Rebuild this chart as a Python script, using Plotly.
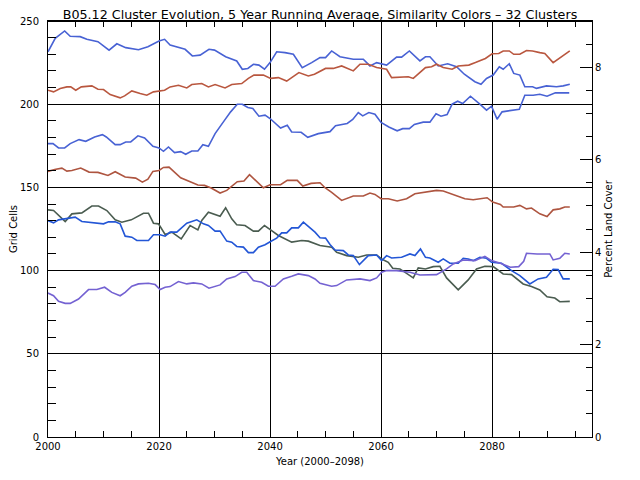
import plotly.graph_objects as go

# Each series: (year, grid cells) pairs
blue_top = [(2000,231.5),(2001.3,239.6),(2003,244),(2004,240.8),(2005.8,240.6),(2007,239),(2009,237.6),(2011,232.5),
            (2012.4,236.3),(2014,234),(2016.3,232.7),(2018,234.5),(2020,238),(2021,239),(2022,235.5),(2024.7,233),
            (2026,229),(2027.4,229.5),(2029,233),(2030,232.5),(2032,228.5),(2034,226),(2035,221),(2036,221.5),
            (2037,224),(2038,223.5),(2039,221),(2040,225),(2041.2,231.5),(2042.7,231),(2044.2,230),(2045.8,222),
            (2047.5,225),(2049,228),(2050,228),(2051.1,232),(2052.6,228.5),(2055,227),(2056.8,227),(2058,223),
            (2059.2,225),(2061,223.5),(2062.8,228.3),(2063.7,228.3),(2065.1,232),(2067,226),(2068,228.5),
            (2068.8,228.5),(2070.3,223),(2072,224.3),(2073.6,222.5),(2075,218),(2076.9,213.5),(2078,212),
            (2079,215.5),(2080.2,217.5),(2081.3,222.5),(2082,221),(2083.1,224.3),(2083.9,218.5),(2085,217.5),
            (2085.9,210.5),(2087.3,210.5),(2088,209.5),(2089.8,211),(2091.6,210.5),(2092.8,211),(2094,212)]

red_top = [(2000,208.4),(2001,207.4),(2002.2,209.4),(2003.4,210.4),(2004.1,210.4),(2005,208.4),(2006,210.4),
           (2007.9,211),(2009,209),(2010,208.8),(2011.2,205.8),(2013,203.8),(2013.8,205),(2015.1,208),
           (2016.6,206.4),(2017.8,205.4),(2019,207.4),(2020.2,208),(2021,208.4),(2022,210.4),(2023.5,211.4),
           (2025,209.8),(2025.9,211.8),(2027.7,212.4),(2028.9,210.4),(2030.1,211.8),(2031.9,209.8),(2033.1,211.8),
           (2034.9,212.4),(2036.1,215.5),(2037.1,217.5),(2038.8,217.5),(2040.1,215.5),(2041.5,216),(2042.1,215),
           (2043,213.9),(2043.9,216),(2045.2,219),(2046.9,217),(2048,218),(2050,221.5),(2051.4,221.5),
           (2052.9,223),(2055,220),(2056.2,224),(2057.7,224),(2059.2,222),(2061,221),(2061.9,216),(2063.7,216.5),
           (2064.9,216.5),(2065.8,215.5),(2068,222),(2069.1,222.5),(2070,224),(2071.2,222),(2072.8,221),
           (2073.9,223),(2075.8,223.5),(2077,225),(2078.8,227.5),(2080,230.3),(2081.2,230.5),(2082,232),
           (2083.1,232),(2083.9,230),(2085,230),(2086.2,232.3),(2087.3,232),(2088.6,231),(2089.5,230.5),
           (2091,225),(2092.8,229.5),(2094,232)]

blue_mid = [(2000,176.3),(2000.9,176.3),(2001.9,173.7),(2003,173.7),(2004,176.3),(2005.6,178.7),(2006.8,177.7),
            (2008.4,180.3),(2009.8,181.7),(2010.5,180.3),(2012.1,175.7),(2013,175.7),(2014,177.3),(2014.9,177.3),
            (2016.2,181),(2017.4,179.7),(2018.9,174.7),(2020,173.7),(2020.8,171.7),(2021.7,174.3),(2022.8,170.9),
            (2023.9,171.5),(2024.8,169.9),(2025.9,171.9),(2027,171.9),(2027.9,175.7),(2028.9,174.7),(2030.1,182.3),
            (2031.6,189.4),(2032.9,195.4),(2034.1,200),(2035,200),(2036,198),(2036.9,197.4),(2038,192.8),
            (2039.1,193.4),(2040,191.4),(2041.9,185.7),(2043.1,187.3),(2043.9,183.3),(2045.6,183.1),(2046.8,180.1),
            (2048.7,182.3),(2050.8,183.5),(2051.8,187.1),(2053.9,188.4),(2054.9,190.8),(2055.9,195),(2056.7,193),
            (2057.8,195),(2058.9,194),(2060,189),(2061.4,186.3),(2062.9,184),(2063.9,185.3),(2065.1,185.3),
            (2066,187.8),(2067.6,189.2),(2068.8,189.2),(2069.9,194.2),(2070.8,192.8),(2071.9,193.8),(2072.8,200),
            (2073.8,201.8),(2074.7,200.4),(2076.1,204.8),(2077.8,200),(2079,196.4),(2079.9,198.8),(2080.9,191),
            (2081.8,195.4),(2083.4,196.4),(2084.9,197),(2085.9,205.4),(2087.4,205.4),(2088.6,206),(2089.9,204.8),
            (2091.4,206.8),(2093.9,206.8)]

red_mid = [(2000,159.6),(2001.2,160.8),(2002.5,161.6),(2003.4,159.8),(2004.3,160.2),(2005.9,161.6),(2007.4,159.2),
           (2009,159),(2010.8,157.2),(2012.1,159.4),(2013.9,156.2),(2015.8,155.6),(2017,153.2),(2018,155),
           (2018.9,159.6),(2020,160.2),(2020.8,162),(2021.8,162.2),(2023.9,155.8),(2025.4,153.8),(2027,151.4),
           (2028.2,151.2),(2029.4,149.6),(2031,146.6),(2032.2,148.2),(2034.1,153.4),(2035.3,153.8),(2036.3,157.6),
           (2037.2,155),(2038.8,149.8),(2040,151.6),(2041.9,151.6),(2043.1,154.2),(2044.9,154.2),(2045.9,150.8),
           (2047.4,152.4),(2049,152.8),(2049.9,149.8),(2051.1,147),(2052.9,142.2),(2055,144.8),(2056.8,144.8),
           (2058,146.6),(2058.9,145.8),(2060,143.2),(2061.3,143.2),(2062.9,141.8),(2064.6,143.2),(2066.1,146.2),
           (2068,147),(2070,148.2),(2071.2,147.8),(2073.6,145.2),(2075.1,143.2),(2076.6,142.6),(2078.2,143.2),
           (2079.1,143.8),(2080.1,141.2),(2081.5,139.8),(2082,138.2),(2083.9,138.2),(2085,139.2),(2086.2,137.1),
           (2087.1,137.6),(2088.6,134.1),(2089.9,132.5),(2091,136.5),(2092.2,137.1),(2093.1,138.2),(2094,138.2)]

green = [(2000,136.5),(2001,136.1),(2003.1,129.5),(2004.3,134.1),(2006.1,134.7),(2007.9,138.8),(2009.1,138.8),
         (2010.6,136.1),(2012.1,130.5),(2013.3,129.1),(2015,130.5),(2016,132.1),(2017.2,134.5),(2018.1,134.5),
         (2019,128.5),(2019.9,128.1),(2021.1,121.7),(2022.3,123.1),(2024,119.1),(2025.6,127.1),(2027,124.5),
         (2027.7,130.1),(2028.9,135.1),(2031,132.7),(2032,137.8),(2033.1,131.1),(2034,127.5),(2035.5,127.1),
         (2037,123.7),(2037.9,123.7),(2039,127.1),(2040.1,124.5),(2041.5,121.1),(2043.9,117.1),(2045.7,118.1),
         (2046.9,117.7),(2048.1,116.1),(2049,115.1),(2051.1,114.1),(2052,111),(2053.8,109),(2055.9,108),
         (2057.4,109.4),(2059.2,109.4),(2060.1,107),(2061.3,105),(2062.1,101.4),(2063.4,101),(2065.8,95.6),
         (2066.7,101.6),(2068,101),(2069.4,102.4),(2070.6,102.6),(2071.8,95.6),(2073.9,88.4),(2075.7,94.4),
         (2077.2,101),(2078.7,102.6),(2080.2,102.4),(2082,98),(2083.5,97.6),(2085.6,92),(2087.1,90.4),
         (2088.6,88.4),(2089.9,84.3),(2091.3,83.5),(2092.2,81.3),(2094,81.5)]

blue_low = [(2000,130.1),(2001,128.7),(2001.9,130.5),(2003.4,131.1),(2004.9,132.1),(2006.1,129.5),(2007.9,128.7),
            (2010,128.1),(2010.9,129.3),(2012.1,129.3),(2013,128.1),(2013.9,120.7),(2015.1,120.1),(2016,118.1),
            (2018.1,118.1),(2019,121.5),(2020.2,121.5),(2021.1,120.7),(2022,123.1),(2023.2,123.1),(2025,128.5),
            (2026.8,130.5),(2028,128.1),(2028.9,127.1),(2030.1,123.7),(2031,123.7),(2032.2,117.7),(2033.1,117.1),
            (2034,114.5),(2035.2,114.1),(2036.1,110.8),(2037,110.8),(2037.9,114.1),(2039.1,115.5),(2040.1,117.5),
            (2041.2,119.5),(2042.1,122.7),(2043,122.7),(2043.9,125.7),(2045.1,125.7),(2046,129.1),(2047.2,125.5),
            (2048.1,123.1),(2049,119.7),(2050,119.5),(2050.8,115.7),(2051.7,112.4),(2053.2,112),(2054.1,109.4),
            (2055,109),(2056.1,103.6),(2057.7,109),(2059.2,109.4),(2060.1,106),(2061,109),(2061.9,107.6),
            (2063.7,108),(2065.2,110),(2066.1,109),(2067.1,113),(2068,108),(2068.8,107.6),(2070.3,105),
            (2071.2,107),(2072.4,104.4),(2073.9,104.4),(2074.8,107.4),(2075.7,107),(2076.6,106),(2077.8,108),
            (2079,107.4),(2079.9,105),(2081.7,104.4),(2083.5,100),(2085,97),(2086.8,92),(2088.3,95),(2089.8,96),
            (2091,100.8),(2091.9,100.6),(2092.8,95),(2094,95)]

purple = [(2000,86.5),(2001,84.9),(2001.9,81.5),(2003.1,80.3),(2004,80.3),(2005.5,82.9),(2007.3,88.6),
          (2008.8,88.6),(2010.2,90),(2011.5,86.9),(2013,84.9),(2013.9,86.9),(2015.1,90.6),(2016.3,92),
          (2018.1,92.4),(2019.3,91.6),(2020.2,88.6),(2021.1,90),(2022,90.4),(2023.5,93.4),(2025,92),(2026.2,92.6),
          (2027.7,92),(2029,89.4),(2031,91.4),(2032.2,95),(2033.7,96.4),(2034.9,99),(2035.8,99),(2037,94),
          (2038.5,93),(2039.7,90.6),(2040.9,90.6),(2042.4,95),(2043.9,96.6),(2045.1,98),(2046.9,97),(2048.1,95),
          (2049,92.4),(2051.1,90.6),(2052,91),(2053.8,94.4),(2056.2,95),(2058,94),(2059.2,95.6),(2060.1,99),
          (2061,100),(2062.8,100),(2065.2,99),(2067,97.4),(2070,97.6),(2071.8,101),(2073,104),(2074.8,106.4),
          (2076.9,106),(2078.7,108.6),(2079.9,106),(2081.5,104.4),(2083.3,102),(2084.8,102.4),(2085.7,105.6),
          (2086.2,110.4),(2088.1,110),(2090.4,110),(2091,106.4),(2092.2,107.4),(2093.1,110.4),(2094,110)]

series = [
    (blue_top, "#4862d4"),
    (red_top, "#b9573f"),
    (blue_mid, "#4862d4"),
    (red_mid, "#ae5540"),
    (green, "#4a5c50"),
    (blue_low, "#2356d6"),
    (purple, "#7462d2"),
]

x_tick_vals = [2000, 2020, 2040, 2060, 2080]
y_tick_vals = [0, 50, 100, 150, 200, 250]
y2_tick_vals = [0, 2, 4, 6, 8]

FONT = "DejaVu Sans"

fig = go.Figure()
for pts, color in series:
    xs = [p[0] for p in pts]
    ys = [p[1] for p in pts]
    fig.add_trace(go.Scatter(x=xs, y=ys, mode="lines", line=dict(color=color, width=1.6),
                             showlegend=False, hoverinfo="skip"))

# invisible trace for right axis
fig.add_trace(go.Scatter(x=[2000], y=[0], yaxis="y2", mode="markers",
                         marker=dict(opacity=0), showlegend=False, hoverinfo="skip"))

fig.update_layout(
    width=632, height=472,
    margin=dict(l=40, r=48, t=13, b=43, autoexpand=False),
    paper_bgcolor="white", plot_bgcolor="white",
    font=dict(family=FONT, size=10, color="black"),
    title=dict(text="B05.12 Cluster Evolution, 5 Year Running Average, Similarity Colors \u2013 32 Clusters",
               x=312 / 632, xanchor="center", y=1 - 7 / 472, yanchor="middle", yref="container",
               font=dict(family=FONT, size=12.7, color="black")),
    xaxis=dict(range=[2000, 2098], tickvals=x_tick_vals, ticktext=[str(v) for v in x_tick_vals],
               showgrid=True, gridcolor="black", gridwidth=1,
               ticks="inside", ticklen=6, tickcolor="black",
               showline=True, linecolor="black", linewidth=1, mirror="ticks",
               zeroline=False,
               minor=dict(dtick=5, tick0=2000, ticks="inside", ticklen=6, tickcolor="black", showgrid=False),
               title=dict(text="Year (2000\u20132098)", standoff=6, font=dict(size=10)),
               tickfont=dict(size=10)),
    yaxis=dict(range=[0, 250], tickvals=y_tick_vals, showgrid=True, gridcolor="black", gridwidth=1,
               ticks="inside", ticklen=8, tickcolor="black",
               showline=True, linecolor="black", linewidth=1, zeroline=False,
               ticklabelstandoff=6,
               minor=dict(dtick=10, tick0=0, ticks="inside", ticklen=8, tickcolor="black", showgrid=False),
               title=dict(text="Grid Cells", standoff=6, font=dict(size=10)),
               tickfont=dict(size=10)),
    yaxis2=dict(range=[0, 9.0], overlaying="y", side="right", tickvals=y2_tick_vals,
                showgrid=False, ticks="inside", ticklen=12, tickcolor="black",
                showline=True, linecolor="black", linewidth=1, zeroline=False,
                minor=dict(dtick=0.5, tick0=0, ticks="inside", ticklen=6, tickcolor="black", showgrid=False),
                title=dict(text="Percent Land Cover", standoff=4, font=dict(size=10)),
                tickfont=dict(size=10)),
)

# heavier top border
fig.add_shape(type="line", xref="paper", yref="paper", x0=0, x1=1, y0=1, y1=1,
              line=dict(color="black", width=2))

fig.write_html("out.html")
